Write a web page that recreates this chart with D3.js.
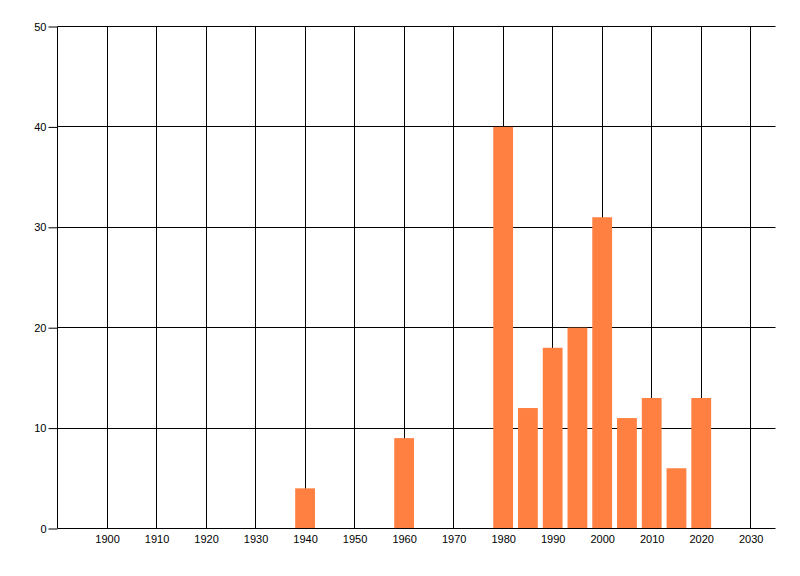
<!DOCTYPE html>
<html>
<head>
<meta charset="utf-8">
<script src="https://cdn.jsdelivr.net/npm/d3@7"></script>
<style>
  body { margin: 0; background: #fff; }
  text { font-family: "Liberation Sans", Arial, sans-serif; }
</style>
</head>
<body>
<div id="chart"></div>
<script>
// Data
const years = [1940, 1960, 1980, 1985, 1990, 1995, 2000, 2005, 2010, 2015, 2020];
const counts = [4, 9, 40, 12, 18, 20, 31, 11, 13, 6, 13];
const xTicks = [1900, 1910, 1920, 1930, 1940, 1950, 1960, 1970, 1980, 1990, 2000, 2010, 2020, 2030];
const yTicks = [0, 10, 20, 30, 40, 50];

function drawChart() {
  const width = 800;
  const height = 576;
  const margin = { top: 26.5, right: 24.5, bottom: 47.5, left: 57.5 };
  const innerWidth = width - margin.left - margin.right;
  const innerHeight = height - margin.top - margin.bottom;
  const barYears = 4;

  const svg = d3
    .select("#chart")
    .append("svg")
    .attr("width", width)
    .attr("height", height);

  const g = svg
    .append("g")
    .attr("transform", `translate(${margin.left}, ${margin.top})`);

  // Scales
  const xScale = d3.scaleLinear().domain([1890, 2035]).range([0, innerWidth]);
  const yScale = d3.scaleLinear().domain([0, 50]).range([innerHeight, 0]);

  // Grid
  g.append("g")
    .selectAll("line")
    .data(xTicks)
    .join("line")
    .attr("x1", (d) => Math.round(xScale(d)))
    .attr("x2", (d) => Math.round(xScale(d)))
    .attr("y1", 0)
    .attr("y2", innerHeight)
    .attr("stroke", "#000");

  g.append("g")
    .selectAll("line")
    .data(yTicks.slice(1))
    .join("line")
    .attr("x1", 0)
    .attr("x2", innerWidth)
    .attr("y1", (d) => Math.round(yScale(d)))
    .attr("y2", (d) => Math.round(yScale(d)))
    .attr("stroke", "#000");

  // Bars
  g.append("g")
    .selectAll("rect")
    .data(years.map((y, i) => ({ year: y, value: counts[i] })))
    .join("rect")
    .attr("x", (d) => xScale(d.year - barYears / 2))
    .attr("width", (d) => xScale(d.year + barYears / 2) - xScale(d.year - barYears / 2))
    .attr("y", (d) => yScale(d.value))
    .attr("height", (d) => yScale(0) - yScale(d.value))
    .attr("fill", "#ff8040");

  // Axes
  const yAxis = d3.axisLeft(yScale).tickValues(yTicks).tickSize(9).tickPadding(2);
  const xAxis = d3.axisBottom(xScale).tickValues(xTicks).tickSize(0).tickPadding(7).tickFormat(d3.format("d"));

  g.append("g")
    .attr("class", "y-axis")
    .call(yAxis)
    .call((a) => a.select(".domain").attr("d", `M0,0V${innerHeight}`).attr("stroke", "#000"))
    .selectAll("text")
    .style("font-size", "11px")
    .attr("fill", "#000");

  g.append("g")
    .attr("class", "x-axis")
    .attr("transform", `translate(0, ${innerHeight})`)
    .call(xAxis)
    .call((a) => a.select(".domain").attr("d", `M0,0H${innerWidth}`).attr("stroke", "#000"))
    .selectAll("text")
    .style("font-size", "11px")
    .attr("fill", "#000");
}

drawChart();
</script>
</body>
</html>
